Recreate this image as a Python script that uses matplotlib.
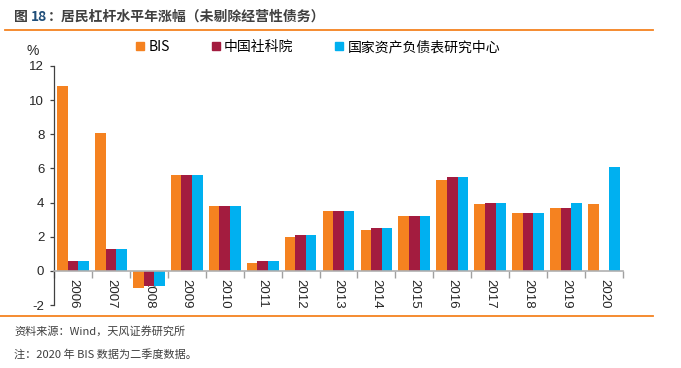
import matplotlib
matplotlib.use("Agg")
import matplotlib.pyplot as plt
import numpy as np
from matplotlib.lines import Line2D

plt.rcParams['font.family'] = ['Noto Sans CJK SC', 'DejaVu Sans']

years = ['2006', '2007', '2008', '2009', '2010', '2011', '2012', '2013',
         '2014', '2015', '2016', '2017', '2018', '2019', '2020']
bis = [10.8, 8.1, -1.0, 5.6, 3.8, 0.45, 2.0, 3.5, 2.4, 3.2, 5.3, 3.9, 3.4, 3.7, 3.9]
cass = [0.55, 1.3, -0.9, 5.6, 3.8, 0.6, 2.1, 3.5, 2.5, 3.2, 5.5, 4.0, 3.4, 3.7, np.nan]
nbs = [0.55, 1.3, -0.9, 5.6, 3.8, 0.6, 2.1, 3.5, 2.5, 3.2, 5.5, 4.0, 3.4, 4.0, 6.1]
series_names = ['BIS', '中国社科院', '国家资产负债表研究中心']
colors = ['#F58220', '#A31C3F', '#00B0F0']

W, H = 681, 368
fig = plt.figure(figsize=(W / 100, H / 100), dpi=100)
ax = fig.add_axes([54 / W, 1 - 305 / H, (623 - 54) / W, (305 - 66) / H])

x = np.arange(len(years))
bw = 0.28
for i, (vals, c) in enumerate(zip([bis, cass, nbs], colors)):
    ax.bar(x + (i - 1) * bw, vals, width=bw, color=c, linewidth=0, zorder=2)

ax.set_xlim(-0.5, len(years) - 0.5)
ax.set_ylim(-2, 12)
ax.set_yticks(np.arange(-2, 13, 2))
ax.set_yticklabels([str(v) for v in range(-2, 13, 2)], family=['Liberation Sans'], fontsize=9.5, color='#262626')

for s in ['top', 'right']:
    ax.spines[s].set_visible(False)
ax.spines['left'].set_color('#404040')
ax.spines['left'].set_linewidth(0.9)
ax.spines['bottom'].set_position(('data', 0))
ax.spines['bottom'].set_color('#B0B0B0')
ax.spines['bottom'].set_linewidth(1.2)
ax.tick_params(axis='y', direction='out', length=3, width=0.9, color='#404040', pad=4)

ax.set_xticks(x)
ax.set_xticklabels(years, rotation=270, family=['Liberation Sans'], fontsize=9.5, color='#262626')
ax.set_xticks(np.arange(-0.5, len(years)), minor=True)
ax.tick_params(axis='x', which='major', length=0, pad=6)
ax.tick_params(axis='x', which='minor', length=5, width=1.0, color='#A0A0A0', direction='out')
for lab in ax.get_xticklabels():
    lab.set_va('top')
    lab.set_ha('center')

# legend
handles = [Line2D([], [], marker='s', linestyle='none', markersize=6, color=c) for c in colors]
fig.legend(handles, series_names, loc='center left', bbox_to_anchor=(136 / W, 1 - 47 / H),
           ncol=3, frameon=False, fontsize=10, handlelength=0.6, handletextpad=0.3,
           columnspacing=3.0, borderaxespad=0, borderpad=0)

fig.text(33 / W, 1 - 51 / H, '%', fontsize=10, ha='center', va='center', color='#262626', family=['Liberation Sans'])

# title
fig.text(14 / W, 1 - 17 / H, '图', fontsize=10, fontweight='bold', color='#404040', ha='left', va='center')
fig.text(31 / W, 1 - 17 / H, '18', fontsize=10, fontweight='bold', color='#1F4E79', ha='left', va='center')
fig.text(48 / W, 1 - 17 / H, '：居民杠杆水平年涨幅（未剔除经营性债务）', fontsize=10, fontweight='bold',
         color='#404040', ha='left', va='center')

fig.add_artist(Line2D([5 / W, 653 / W], [1 - 29.5 / H, 1 - 29.5 / H], color='#F58220', linewidth=1.3))
fig.add_artist(Line2D([0 / W, 653 / W], [1 - 316 / H, 1 - 316 / H], color='#F58220', linewidth=1.3))

fig.text(14 / W, 1 - 331 / H, '资料来源：Wind，天风证券研究所', fontsize=8, color='#404040', ha='left', va='center')
fig.text(14 / W, 1 - 354 / H, '注：2020 年 BIS 数据为二季度数据。', fontsize=8, color='#404040', ha='left', va='center')

fig.savefig('out.png', dpi=100)
